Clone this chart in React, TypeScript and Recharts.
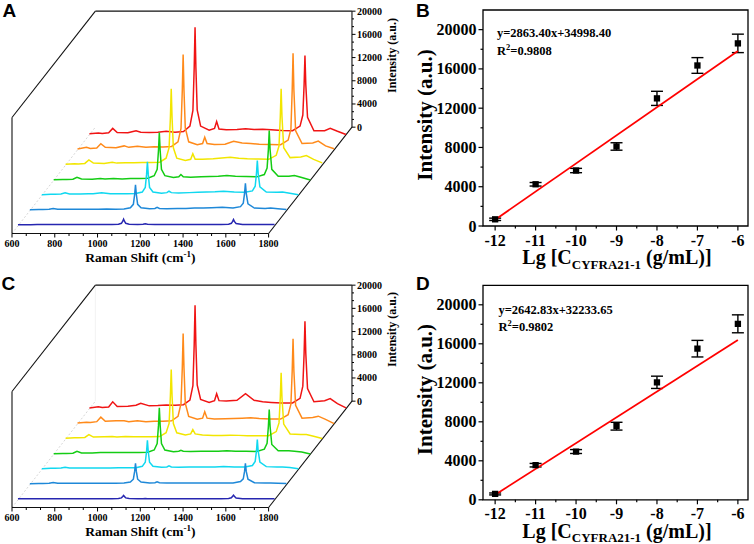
import React from "react";
import {
  ComposedChart,
  ErrorBar,
  Line,
  LineChart,
  ReferenceArea,
  ReferenceLine,
  Scatter,
  XAxis,
  YAxis,
  ZAxis,
} from "recharts";

const SERIF = '"Liberation Serif", "Times New Roman", serif';
const SANS = '"Liberation Sans", Arial, sans-serif';

// ---- Raman spectra (A, C) ----
// shared Raman shift grid, cm-1
const shift = [
  600, 642, 660, 690, 709, 730, 780, 818, 840, 880, 920, 959, 1000, 1040, 1070, 1084, 1090, 1094, 1098, 1104, 1120,
  1160, 1185, 1195, 1206, 1240, 1290, 1330, 1370, 1410, 1450, 1500, 1550, 1585, 1598, 1604, 1608, 1612, 1620, 1650,
  1700, 1726, 1760, 1800,
];

// panel A, front (lowest concentration) to back
const specA0 = [200, 220, 220, 230, 250, 240, 240, 240, 240, 240, 240, 240, 240, 250, 300, 450, 800, 1150, 800, 450, 300, 260, 280, 350, 280, 260, 260, 260, 260, 260, 260, 260, 250, 300, 450, 780, 1100, 780, 420, 260, 250, 250, 240, 230];
const specA1 = [150, 200, 200, 250, 380, 250, 250, 250, 250, 250, 250, 300, 250, 300, 500, 1100, 2800, 4470, 2800, 1100, 500, 350, 400, 600, 400, 350, 400, 400, 450, 450, 500, 600, 450, 700, 1300, 3000, 4740, 3000, 1200, 450, 400, 450, 350, 200];
const specA2 = [150, 200, 200, 250, 470, 250, 250, 300, 300, 480, 300, 300, 300, 350, 600, 1400, 3600, 5810, 3600, 1400, 600, 400, 500, 740, 500, 450, 500, 550, 600, 650, 740, 600, 550, 800, 1600, 3800, 6030, 3800, 1500, 600, 550, 600, 400, 150];
const specA3 = [100, 150, 150, 200, 540, 250, 200, 300, 250, 300, 250, 300, 300, 350, 800, 1900, 5100, 8240, 5100, 1900, 800, 500, 600, 1000, 600, 550, 600, 650, 700, 830, 700, 650, 600, 1000, 2100, 5300, 8590, 5300, 1900, 700, 700, 830, 500, 50];
const specA4 = [150, 250, 200, 300, 910, 350, 300, 500, 350, 400, 400, 450, 450, 500, 1200, 3000, 8100, 13160, 8100, 3000, 1200, 800, 1000, 1950, 1000, 1000, 1100, 1250, 1360, 1200, 1100, 1050, 1000, 1700, 3300, 8300, 13160, 8300, 3000, 1300, 1400, 1650, 1000, 400];
const specA5 = [150, 450, 250, 350, 1070, 450, 400, 700, 450, 650, 450, 550, 500, 600, 1400, 3700, 10200, 16470, 10200, 3800, 1400, 900, 1100, 2200, 1100, 950, 1000, 1500, 1200, 1100, 1000, 950, 900, 1700, 3600, 10300, 16690, 10300, 3300, 1100, 1200, 1520, 700, 200];
const specA6 = [170, 300, 200, 350, 1100, 400, 350, 700, 450, 400, 450, 600, 450, 550, 1500, 4200, 11500, 18550, 11500, 4300, 1500, 800, 1100, 2300, 1000, 850, 900, 1050, 900, 950, 850, 750, 700, 1500, 3400, 8600, 13670, 8600, 3000, 700, 700, 1100, 600, 50];

// panel C
const specC0 = [180, 190, 190, 190, 200, 190, 190, 190, 190, 190, 190, 190, 190, 200, 250, 350, 580, 760, 580, 350, 250, 210, 220, 260, 220, 200, 200, 200, 200, 200, 200, 200, 200, 250, 370, 620, 810, 620, 340, 220, 200, 200, 190, 180];
const specC1 = [150, 200, 200, 250, 400, 250, 250, 250, 250, 250, 250, 250, 250, 300, 450, 950, 2300, 3700, 2300, 950, 450, 300, 350, 500, 350, 300, 300, 300, 300, 300, 300, 300, 300, 550, 1000, 2300, 3700, 2300, 950, 350, 300, 300, 250, 200];
const specC2 = [150, 200, 200, 250, 400, 250, 250, 250, 250, 250, 250, 300, 300, 300, 550, 1250, 3100, 5050, 3100, 1250, 550, 400, 450, 640, 450, 400, 450, 450, 450, 450, 500, 450, 450, 700, 1400, 3200, 5170, 3200, 1300, 500, 450, 450, 350, 150];
const specC3 = [100, 150, 150, 200, 540, 250, 250, 300, 300, 300, 300, 300, 300, 350, 750, 1850, 4950, 8010, 4950, 1850, 750, 450, 550, 710, 550, 500, 550, 550, 550, 600, 550, 550, 500, 900, 1900, 4800, 7720, 4800, 1700, 600, 600, 550, 400, 50];
const specC4 = [150, 250, 250, 300, 790, 350, 400, 450, 350, 450, 400, 400, 400, 450, 1100, 2700, 7400, 12000, 7400, 2700, 1100, 700, 900, 1650, 900, 700, 650, 650, 670, 650, 600, 600, 600, 1300, 2800, 7100, 11430, 7100, 2600, 900, 800, 790, 500, 100];
const specC5 = [150, 300, 250, 400, 1170, 450, 550, 550, 400, 550, 400, 450, 450, 550, 1300, 3500, 9600, 15600, 9600, 3600, 1300, 800, 1000, 2100, 1000, 850, 900, 950, 1000, 1070, 950, 850, 850, 1600, 3400, 9100, 14690, 9100, 3200, 1000, 1100, 1340, 800, 50];
const specC6 = [150, 350, 200, 300, 1200, 400, 450, 600, 960, 500, 550, 650, 600, 700, 1500, 4000, 11000, 17860, 11000, 4100, 1600, 1100, 1400, 2600, 1400, 1350, 1450, 2600, 1450, 1200, 1100, 1000, 1000, 1800, 3900, 9500, 15100, 9500, 3500, 1200, 1400, 1750, 900, 150];

const SPEC_COLORS = ["#2626b0", "#1e88d8", "#10d8f0", "#14cc14", "#f2e600", "#ff8a1a", "#f01414"];

const frontTicks = [600, 800, 1000, 1200, 1400, 1600, 1800];
const zTicks = [0, 4000, 8000, 12000, 16000, 20000];

// ---- calibration plots (B, D) ----
const lgConc = [-12, -11, -10, -9, -8, -7, -6];
const intB = [680, 4250, 5650, 8100, 13000, 16350, 18600];
const errB = [120, 180, 220, 380, 720, 800, 940];
const intD = [600, 3550, 4950, 7550, 12050, 15500, 18050];
const errD = [100, 180, 200, 400, 630, 850, 920];
const fitX = [-12, -6];
const fitB = [640, 17820];
const fitD = [520, 16380];
const lgTicks = [-12, -11, -10, -9, -8, -7, -6];
const intTicks = [0, 4000, 8000, 12000, 16000, 20000];

// oblique projection of the waterfall box
const LEFT = 12;
const TOP = 10.5;
const PW = 340;
const PH = 223;
const SX = 256.6 / 1200; // px per cm-1
const SY = 116 / 20000; // px per count
const DX = 11.91;
const DY = 15.19;
const DEPTH = 7;

const xDom = (d: number): [number, number] => [600 - (d * DX) / SX, 600 + (PW - d * DX) / SX];
const yDom = (d: number): [number, number] => [-(d * DY) / SY, (PH - d * DY) / SY];
// a point of the plane at depth d, in front-plane units
const at = (x: number, y: number, d: number) => ({ x: x + (d * DX) / SX, y: y + (d * DY) / SY });

const withMinors = (major: number[], n: number) =>
  major.flatMap((t, i) => {
    if (i === 0) return [t];
    const step = (t - major[i - 1]) / (n + 1);
    return [...Array.from({ length: n }, (_, j) => major[i - 1] + step * (j + 1)), t];
  });

const frontTicksAll = withMinors(frontTicks, 2);
const zTicksAll = withMinors(zTicks, 2);

const FrontTick = (p: any) => {
  const v = p.payload.value;
  const major = frontTicks.includes(v);
  return (
    <g>
      <line x1={p.x} x2={p.x} y1={p.y} y2={p.y + (major ? 4 : 2.5)} stroke="#000" strokeWidth={1} />
      {major && (
        <text x={p.x} y={p.y + 13} textAnchor="middle" fontFamily={SERIF} fontWeight="bold" fontSize={10} fill="#000">
          {v}
        </text>
      )}
    </g>
  );
};

const ZTick = (p: any) => {
  const v = p.payload.value;
  const major = zTicks.includes(v);
  return (
    <g>
      <line x1={p.x} x2={p.x + (major ? 3.5 : 2)} y1={p.y} y2={p.y} stroke="#000" strokeWidth={1} />
      {major && (
        <text x={p.x + 5} y={p.y + 3.5} fontFamily={SERIF} fontWeight="bold" fontSize={10} fill="#000">
          {v}
        </text>
      )}
    </g>
  );
};

const RamanLabel = (p: any) => {
  const vb = p.viewBox;
  return (
    <text x={vb.x + 128.3} y={vb.y + 28} textAnchor="middle" fontFamily={SERIF} fontWeight="bold" fontSize={13.5} fill="#000">
      Raman Shift (cm
      <tspan fontSize={9} dy={-5}>-1</tspan>
      <tspan dy={5}>)</tspan>
    </text>
  );
};

const ZLabel = (p: any) => {
  const vb = p.viewBox;
  const x = vb.x + 44;
  const y = vb.y + 45;
  return (
    <text x={x} y={y} transform={`rotate(-90 ${x} ${y})`} textAnchor="middle" fontFamily={SERIF} fontWeight="bold" fontSize={12} fill="#000">
      Intensity (a.u.)
    </text>
  );
};

const frame = [
  [at(600, 0, 0), at(1800, 0, 0)],
  [at(600, 0, 0), at(600, 20000, 0)],
  [at(600, 20000, 0), at(600, 20000, DEPTH)],
  [at(600, 20000, DEPTH), at(1800, 20000, DEPTH)],
  [at(1800, 0, 0), at(1800, 0, DEPTH)],
];

function Waterfall({ spectra, height, backWall }: { spectra: number[][]; height: number; backWall?: boolean }) {
  const backX = at(1800, 0, DEPTH).x;
  const order = spectra.map((_, k) => k).reverse();
  return (
    <LineChart width={402} height={height} margin={{ top: TOP, right: 0, bottom: 0, left: LEFT }}>
      <XAxis
        xAxisId="front"
        type="number"
        dataKey="shift"
        domain={xDom(0)}
        allowDataOverflow
        ticks={frontTicksAll}
        interval={0}
        height={height - TOP - PH}
        axisLine={false}
        tickLine={false}
        tickSize={0}
        tickMargin={0}
        tick={FrontTick}
        label={RamanLabel}
      />
      <YAxis yAxisId="front" type="number" domain={yDom(0)} allowDataOverflow hide />
      <YAxis
        yAxisId="back"
        orientation="right"
        type="number"
        domain={yDom(DEPTH)}
        allowDataOverflow
        ticks={zTicksAll}
        interval={0}
        width={50}
        axisLine={false}
        tickLine={false}
        tickSize={0}
        tickMargin={0}
        tick={ZTick}
        label={ZLabel}
      />
      {spectra.map((_, k) => (
        <XAxis key={"sx" + k} xAxisId={"s" + k} type="number" dataKey="shift" domain={xDom(k + 0.5)} allowDataOverflow hide />
      ))}
      {spectra.map((_, k) => (
        <YAxis key={"sy" + k} yAxisId={"s" + k} type="number" domain={yDom(k + 0.5)} allowDataOverflow hide />
      ))}
      <ReferenceLine
        xAxisId="front"
        yAxisId="front"
        segment={[at(600, 0, 0), at(600, 0, DEPTH)]}
        stroke="#cccccc"
        strokeDasharray="2 2"
        strokeWidth={0.8}
        ifOverflow="visible"
      />
      {backWall && (
        <ReferenceLine
          xAxisId="front"
          yAxisId="front"
          segment={[at(600, 0, DEPTH), at(600, 20000, DEPTH)]}
          stroke="#efefef"
          strokeWidth={0.8}
          ifOverflow="visible"
        />
      )}
      {frame.map((seg, i) => (
        <ReferenceLine key={"f" + i} xAxisId="front" yAxisId="front" segment={seg} stroke="#111" strokeWidth={1.1} ifOverflow="visible" />
      ))}
      <ReferenceLine
        xAxisId="front"
        yAxisId="back"
        segment={[{ x: backX, y: 0 }, { x: backX, y: 20000 }]}
        stroke="#111"
        strokeWidth={1.1}
        ifOverflow="visible"
      />
      {order.map((k) => (
        <Line
          key={"l" + k}
          xAxisId={"s" + k}
          yAxisId={"s" + k}
          data={shift.map((x, i) => ({ shift: x, v: spectra[k][i] }))}
          dataKey="v"
          type="linear"
          stroke={SPEC_COLORS[k]}
          strokeWidth={1.5}
          dot={false}
          activeDot={false}
          isAnimationActive={false}
        />
      ))}
    </LineChart>
  );
}

const LgTick = (p: any) => {
  const v = p.payload.value;
  const major = lgTicks.includes(v);
  return (
    <g>
      <line x1={p.x} x2={p.x} y1={p.y} y2={p.y + (major ? 4.5 : 2.5)} stroke="#000" strokeWidth={1.2} />
      {major && (
        <text x={p.x} y={p.y + 19.5} textAnchor="middle" fontFamily={SERIF} fontWeight="bold" fontSize={16} fill="#000">
          {v}
        </text>
      )}
    </g>
  );
};

const IntTick = (p: any) => {
  const v = p.payload.value;
  const major = intTicks.includes(v);
  return (
    <g>
      <line x1={p.x - (major ? 4.5 : 2.5)} x2={p.x} y1={p.y} y2={p.y} stroke="#000" strokeWidth={1.2} />
      {major && (
        <text x={p.x - 6.5} y={p.y + 5.5} textAnchor="end" fontFamily={SERIF} fontWeight="bold" fontSize={16} fill="#000">
          {v}
        </text>
      )}
    </g>
  );
};

const LgLabel = (p: any) => {
  const vb = p.viewBox;
  return (
    <text x={vb.x + vb.width / 2 + 1.5} y={vb.y + 38} textAnchor="middle" fontFamily={SERIF} fontWeight="bold" fontSize={20} fill="#000">
      Lg [C
      <tspan fontSize={13} dy={4.5}>CYFRA21-1</tspan>
      <tspan dy={-4.5}> (g/mL)]</tspan>
    </text>
  );
};

const IntLabel = (p: any) => {
  const vb = p.viewBox;
  const x = vb.x + 55;
  const y = vb.y + vb.height / 2 - 3;
  return (
    <text x={x} y={y} transform={`rotate(-90 ${x} ${y})`} textAnchor="middle" fontFamily={SERIF} fontWeight="bold" fontSize={21} fill="#000">
      Intensity (a.u.)
    </text>
  );
};

function Calibration({
  values,
  errors,
  fit,
  height,
  top,
  plotH,
}: {
  values: number[];
  errors: number[];
  fit: number[];
  height: number;
  top: number;
  plotH: number;
}) {
  const points = lgConc.map((x, i) => ({ lg: x, val: values[i], err: errors[i] }));
  const fitLine = fitX.map((x, i) => ({ lg: x, val: fit[i] }));
  return (
    <ComposedChart width={377} height={height} margin={{ top, right: 6, bottom: 0, left: 0 }}>
      <XAxis
        type="number"
        dataKey="lg"
        domain={[-12.3, -5.75]}
        allowDataOverflow
        ticks={withMinors(lgTicks, 1)}
        interval={0}
        height={height - top - plotH}
        axisLine={false}
        tickLine={false}
        tickSize={0}
        tickMargin={0}
        tick={LgTick}
        label={LgLabel}
      />
      <YAxis
        type="number"
        domain={[0, 22000]}
        allowDataOverflow
        ticks={withMinors(intTicks, 1)}
        interval={0}
        width={106}
        axisLine={false}
        tickLine={false}
        tickSize={0}
        tickMargin={0}
        tick={IntTick}
        label={IntLabel}
      />
      <ZAxis range={[40, 40]} />
      <ReferenceArea x1={-12.3} x2={-5.75} y1={0} y2={22000} fill="none" stroke="#000" strokeWidth={1.3} ifOverflow="visible" />
      <Scatter data={points} dataKey="val" fill="#000" shape="square" isAnimationActive={false}>
        <ErrorBar dataKey="err" direction="y" width={6} stroke="#000" strokeWidth={1.4} />
      </Scatter>
      <Line data={fitLine} dataKey="val" type="linear" stroke="#ff0000" strokeWidth={1.8} dot={false} activeDot={false} isAnimationActive={false} />
    </ComposedChart>
  );
}

const eqB = "y=2863.40x+34998.40";
const r2B = "=0.9808";
const eqD = "y=2642.83x+32233.65";
const r2D = "=0.9802";

export default function App() {
  const abs = (left: number, top: number): React.CSSProperties => ({ position: "absolute", left, top });
  const txt = { fontFamily: SERIF, fontWeight: "bold" as const, fontSize: 12.5, fill: "#000" };
  const letter = { fontFamily: SANS, fontWeight: "bold" as const, fontSize: 19, fill: "#000" };
  return (
    <div style={{ position: "absolute", left: 0, top: 0, width: 754, height: 544, overflow: "hidden", background: "#fff" }}>
      <div style={abs(0, 0)}>
        <Waterfall spectra={[specA0, specA1, specA2, specA3, specA4, specA5, specA6]} height={272} />
      </div>
      <div style={abs(0, 274)}>
        <Waterfall spectra={[specC0, specC1, specC2, specC3, specC4, specC5, specC6]} height={270} backWall />
      </div>
      <div style={abs(377, 0)}>
        <Calibration values={intB} errors={errB} fit={fitB} height={272} top={10} plotH={216} />
      </div>
      <div style={abs(377, 274)}>
        <Calibration values={intD} errors={errD} fit={fitD} height={270} top={11.3} plotH={214.5} />
      </div>
      <svg width={754} height={544} style={{ position: "absolute", left: 0, top: 0, pointerEvents: "none" }}>
        <text x={2.5} y={16.8} {...letter}>A</text>
        <text x={416} y={16.8} {...letter}>B</text>
        <text x={1.5} y={290.4} {...letter}>C</text>
        <text x={416} y={290.4} {...letter}>D</text>
        <text x={497} y={36.7} {...txt}>{eqB}</text>
        <text x={497} y={54.5} {...txt}>
          R<tspan fontSize={8.5} dy={-5}>2</tspan>
          <tspan dy={5}>{r2B}</tspan>
        </text>
        <text x={498.5} y={313.5} {...txt}>{eqD}</text>
        <text x={498.5} y={330.8} {...txt}>
          R<tspan fontSize={8.5} dy={-5}>2</tspan>
          <tspan dy={5}>{r2D}</tspan>
        </text>
      </svg>
    </div>
  );
}
